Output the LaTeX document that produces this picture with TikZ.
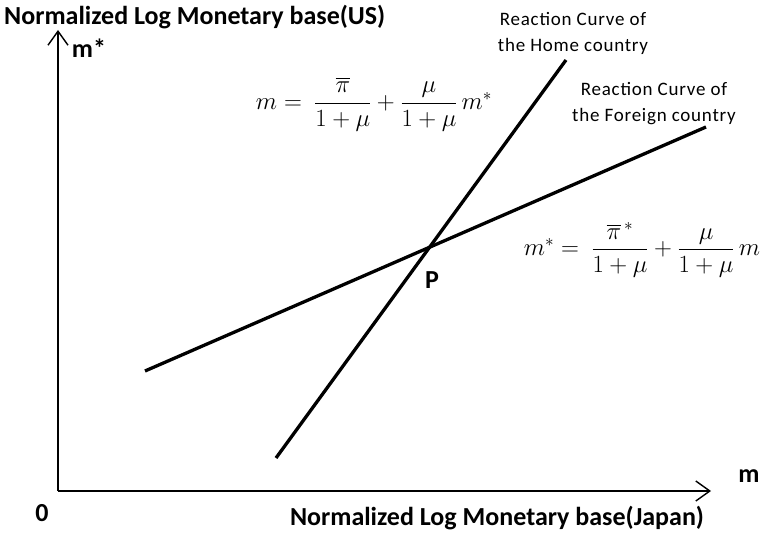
\documentclass[tikz,border=0pt]{standalone}
\usepackage[no-math]{fontspec}
\setmainfont{Carlito}
\newfontfamily\spacedfont[LetterSpace=4]{Carlito}
\usepackage{amsmath}
\usetikzlibrary{arrows.meta}
\begin{document}
\begin{tikzpicture}[x=1bp,y=-1bp,
  axis/.style={line width=1.4bp, -{Straight Barb[length=14bp,width=20bp,line width=1.4bp]}},
  curve/.style={line width=3.3bp},
  blab/.style={font=\fontsize{26bp}{29bp}\selectfont\bfseries, inner sep=0},
  rlab/.style={font=\spacedfont\fontsize{19bp}{26bp}\selectfont, align=center, inner sep=0},
  eq/.style={font=\fontsize{24bp}{28bp}\selectfont, inner sep=0}]
\useasboundingbox (0,0) rectangle (764,534);
\coordinate (O) at (58,491);
\coordinate (Ytip) at (58,30);
\coordinate (Xtip) at (711,491);
\draw[axis] (O) -- (Ytip);
\draw[axis] (O) -- (Xtip);
\coordinate (H1) at (276,458);
\coordinate (H2) at (566,60);
\coordinate (F1) at (145,371);
\coordinate (F2) at (706,127);
\draw[curve] (H1) -- (H2);
\draw[curve] (F1) -- (F2);
\node[blab, anchor=west] (ylab) at (4,17) {Normalized Log Monetary base(US)};
\node[blab] (mstar) at (89,48) {m*};
\node[blab] (P) at (432,280) {P};
\node[blab] (zero) at (42,513) {0};
\node[blab] (mlab) at (749,476) {m};
\node[blab] (xlab) at (497,518) {Normalized Log Monetary base(Japan)};
\node[rlab] (home) at (573,33) {Reaction Curve of\\the Home country};
\node[rlab] (foreign) at (654,104) {Reaction Curve of\\the Foreign country};
\node[eq] (eq1) at (374,104) {$m = \ \dfrac{\overline{\pi}}{1+\mu}+\dfrac{\mu}{1+\mu}\,m^{*}$};
\node[eq] (eq2) at (642,250) {$m^{*} = \ \dfrac{\overline{\pi}^{\,*}}{1+\mu}+\dfrac{\mu}{1+\mu}\,m$};
\end{tikzpicture}
\end{document}
